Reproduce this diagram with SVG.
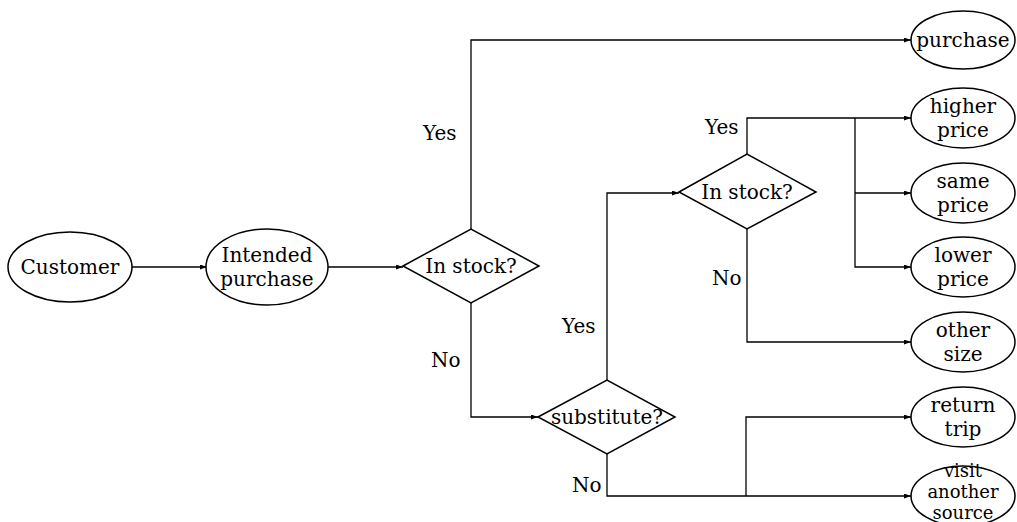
<svg xmlns="http://www.w3.org/2000/svg" width="1017" height="522" viewBox="0 0 1017 522">
  <style>
    .shape { fill: #ffffff; stroke: #000000; stroke-width: 1.5; }
    .wire { fill: none; stroke: #000000; stroke-width: 1.3; }
    text { font-family: "DejaVu Serif", "Liberation Serif", serif; font-size: 20px; fill: #000000; }
    .c { text-anchor: middle; }
    .small { font-size: 18px; }
  </style>
  <defs>
    <marker id="arrow" markerWidth="8" markerHeight="6" refX="7" refY="2.5" orient="auto" markerUnits="userSpaceOnUse">
      <path d="M0,0 L7,2.5 L0,5 z" fill="#000000"/>
    </marker>
  </defs>
  <rect width="1017" height="522" fill="#ffffff"/>

  <!-- connectors -->
  <g id="connectors">
    <path class="wire" d="M132,267 H207" marker-end="url(#arrow)"/>
    <path class="wire" d="M328,267 H403" marker-end="url(#arrow)"/>
    <path class="wire" d="M471,229 V40 H911" marker-end="url(#arrow)"/>
    <path class="wire" d="M471,303 V417 H538" marker-end="url(#arrow)"/>
    <path class="wire" d="M607,380 V193 H679" marker-end="url(#arrow)"/>
    <path class="wire" d="M747,154 V118 H911" marker-end="url(#arrow)"/>
    <path class="wire" d="M855,118 V267 H911" marker-end="url(#arrow)"/>
    <path class="wire" d="M855,193 H911" marker-end="url(#arrow)"/>
    <path class="wire" d="M747,229 V342 H911" marker-end="url(#arrow)"/>
    <path class="wire" d="M607,454 V496 H911" marker-end="url(#arrow)"/>
    <path class="wire" d="M746,496 V417 H911" marker-end="url(#arrow)"/>
    <text x="423" y="140">Yes</text>
    <text x="431" y="367">No</text>
    <text x="562" y="333">Yes</text>
    <text x="705" y="134">Yes</text>
    <text x="712" y="285">No</text>
    <text x="572" y="492">No</text>
  </g>

  <!-- start -->
  <g id="customer">
    <ellipse class="shape" cx="70" cy="267" rx="62" ry="35"/>
    <text class="c" x="70" y="274">Customer</text>
  </g>
  <g id="intended-purchase">
    <ellipse class="shape" cx="267" cy="267" rx="61" ry="38"/>
    <text class="c" x="267" y="262">Intended</text>
    <text class="c" x="267" y="286">purchase</text>
  </g>

  <!-- decisions -->
  <g id="in-stock-1">
    <polygon class="shape" points="403,266 471,229 539,266 471,303"/>
    <text class="c" x="471" y="273">In stock?</text>
  </g>
  <g id="substitute">
    <polygon class="shape" points="538,417 607,380 675,417 607,454"/>
    <text class="c" x="607" y="424">substitute?</text>
  </g>
  <g id="in-stock-2">
    <polygon class="shape" points="679,192 747,154 816,192 747,229"/>
    <text class="c" x="747" y="199">In stock?</text>
  </g>

  <!-- outcomes -->
  <g id="purchase">
    <ellipse class="shape" cx="963" cy="40" rx="52" ry="29"/>
    <text class="c" x="963" y="47">purchase</text>
  </g>
  <g id="higher-price">
    <ellipse class="shape" cx="963" cy="118" rx="52" ry="30"/>
    <text class="c" x="963" y="113">higher</text>
    <text class="c" x="963" y="137">price</text>
  </g>
  <g id="same-price">
    <ellipse class="shape" cx="963" cy="193" rx="52" ry="30"/>
    <text class="c" x="963" y="188">same</text>
    <text class="c" x="963" y="212">price</text>
  </g>
  <g id="lower-price">
    <ellipse class="shape" cx="963" cy="267" rx="52" ry="30"/>
    <text class="c" x="963" y="262">lower</text>
    <text class="c" x="963" y="286">price</text>
  </g>
  <g id="other-size">
    <ellipse class="shape" cx="963" cy="342" rx="52" ry="30"/>
    <text class="c" x="963" y="337">other</text>
    <text class="c" x="963" y="361">size</text>
  </g>
  <g id="return-trip">
    <ellipse class="shape" cx="963" cy="417" rx="52" ry="30"/>
    <text class="c" x="963" y="412">return</text>
    <text class="c" x="963" y="436">trip</text>
  </g>
  <g id="visit-another-source">
    <ellipse class="shape" cx="963" cy="496" rx="52" ry="30"/>
    <text class="c small" x="963" y="477">visit</text>
    <text class="c small" x="963" y="498">another</text>
    <text class="c small" x="963" y="519">source</text>
  </g>
</svg>
